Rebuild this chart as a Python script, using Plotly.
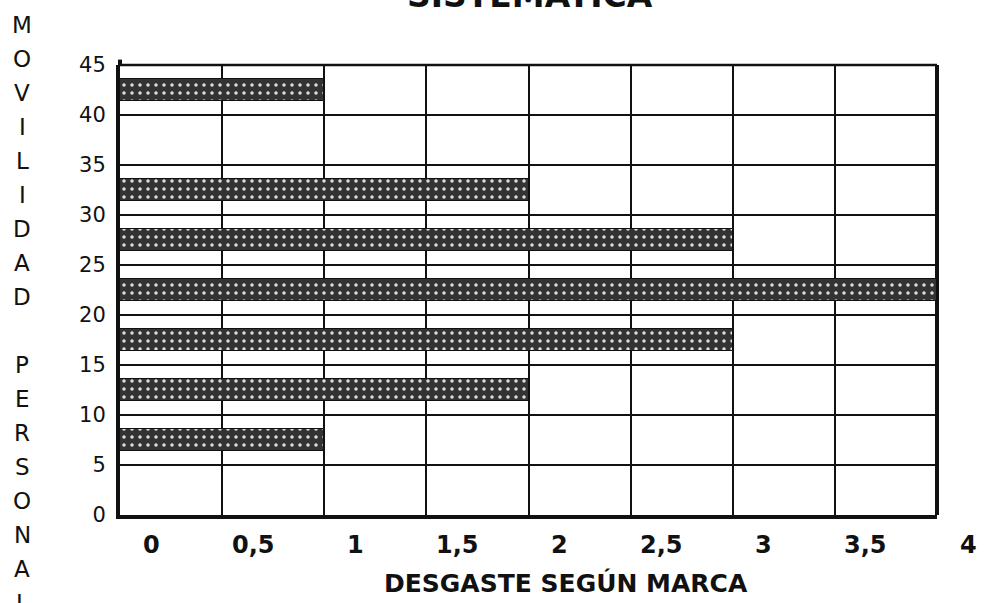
import plotly.graph_objects as go

# Data
movilidad = [7.5, 12.5, 17.5, 22.5, 27.5, 32.5, 42.5]
desgaste = [1, 2, 3, 4, 3, 2, 1]
x_tick_vals = [0, 0.5, 1, 1.5, 2, 2.5, 3, 3.5, 4]
x_tick_text = ["0", "0,5", "1", "1,5", "2", "2,5", "3", "3,5", "4"]
y_tick_vals = [0, 5, 10, 15, 20, 25, 30, 35, 40, 45]
title_text = "SISTEMATICA"
x_title = "DESGASTE SEGÚN MARCA"
y_title_letters = list("MOVILIDAD") + [""] + list("PERSONAL")

W, H = 984, 603
ML, MR, MT, MB = 120, 47, 65, 88
PH = H - MT - MB
PW = W - ML - MR


def py2paper(py):
    return (H - MB - py) / PH


def px2paper(px):
    return (px - ML) / PW


fig = go.Figure()
fig.add_trace(go.Bar(
    x=desgaste, y=movilidad, orientation="h", width=2.2,
    marker=dict(
        color="#333333",
        line=dict(color="#111111", width=1),
        pattern=dict(shape=".", fgcolor="#e0e0e0", bgcolor="#333333",
                     size=8, solidity=0.15, fillmode="replace"),
    ),
    showlegend=False,
))

annotations = []
# x tick labels (offset to the right as in the reference)
for v, t in zip(x_tick_vals, x_tick_text):
    annotations.append(dict(
        x=v, xref="x", y=py2paper(545), yref="paper", text=t, showarrow=False,
        xanchor="center", yanchor="middle", xshift=31,
        font=dict(family="DejaVu Sans", size=24, color="#111111", weight="bold"),
    ))
# x title
annotations.append(dict(
    x=px2paper(566), xref="paper", y=py2paper(583), yref="paper", text=x_title,
    showarrow=False, xanchor="center", yanchor="middle",
    font=dict(family="DejaVu Sans", size=25, color="#111111", weight="bold"),
))
# title (partly cut off at top, as in the reference)
annotations.append(dict(
    x=px2paper(530), xref="paper", y=py2paper(-5), yref="paper", text=title_text,
    showarrow=False, xanchor="center", yanchor="middle",
    font=dict(family="DejaVu Sans", size=33, color="#111111", weight="bold"),
))
# vertical y title letters
for i, ch in enumerate(y_title_letters):
    if not ch:
        continue
    annotations.append(dict(
        x=px2paper(22), xref="paper", y=py2paper(25 + 34 * i), yref="paper",
        text=ch, showarrow=False, xanchor="center", yanchor="middle",
        font=dict(family="DejaVu Sans", size=23, color="#111111"),
    ))

fig.update_layout(
    width=W, height=H,
    margin=dict(l=ML, r=MR, t=MT, b=MB, pad=0),
    paper_bgcolor="white", plot_bgcolor="white",
    annotations=annotations,
    bargap=0,
    shapes=[
        dict(type="line", xref="paper", yref="paper", x0=0, x1=1, y0=1, y1=1,
             line=dict(color="#111111", width=2.5), layer="below"),
        dict(type="line", xref="paper", yref="paper", x0=1, x1=1, y0=0, y1=1,
             line=dict(color="#111111", width=4), layer="below"),
        dict(type="line", xref="paper", yref="paper", x0=0, x1=0, y0=1, y1=1.012,
             line=dict(color="#111111", width=4), layer="below"),
    ],
    xaxis=dict(
        range=[0, 4], tickvals=x_tick_vals, showticklabels=False,
        showgrid=True, gridcolor="#111111", gridwidth=2,
        showline=True, linecolor="#111111", linewidth=4,
        zeroline=False, ticks="", fixedrange=True,
    ),
    yaxis=dict(
        range=[0, 45], tickvals=y_tick_vals,
        showgrid=True, gridcolor="#111111", gridwidth=2,
        showline=True, linecolor="#111111", linewidth=4,
        zeroline=False, ticks="", ticklabelstandoff=6,
        tickfont=dict(family="DejaVu Sans", size=21, color="#111111"),
        fixedrange=True,
    ),
)

fig.write_html(
    "out.html",
    config={"displayModeBar": False},
    post_script="document.body.style.margin='0';document.body.style.overflow='hidden';",
)
